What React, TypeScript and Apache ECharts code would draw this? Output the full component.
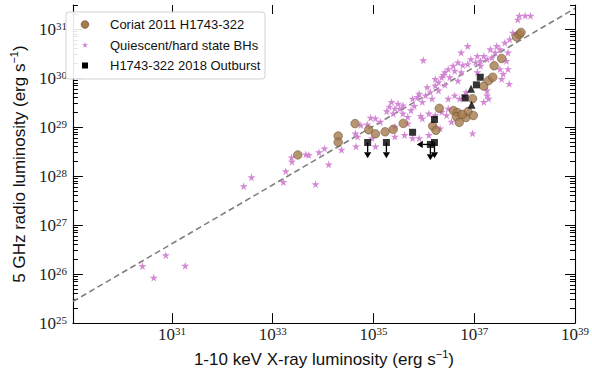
import { useEffect, useRef } from 'react';
import * as echarts from 'echarts';

// Axis ranges (log10 of luminosity)
const X_MIN = 29.035;
const X_MAX = 39;
const Y_MIN = 25;
const Y_MAX = 31.49;

const xTickLogs = [31, 33, 35, 37, 39];
const yTickLogs = [25, 26, 27, 28, 29, 30, 31];
const yMinorLogs: number[] = [];
for (let d = 25; d <= 31; d++) {
  for (let k = 2; k <= 9; k++) {
    const v = d + Math.log10(k);
    if (v <= Y_MAX) yMinorLogs.push(v);
  }
}

const legendNames = ['Coriat 2011 H1743-322', 'Quiescent/hard state BHs', 'H1743-322 2018 Outburst'];

// Coriat 2011 H1743-322 (log Lx, log Lr)
const coriatLogLx = [33.498, 34.3, 34.3, 34.635, 34.907, 35.04, 35.232, 35.392, 35.591, 36.307, 36.176, 36.24, 36.587, 36.664, 36.645, 36.702, 36.837, 36.875, 36.982, 36.76, 36.966, 37.189, 37.286, 37.367, 37.396, 37.544, 37.839, 37.897, 37.929];
const coriatLogLr = [28.431, 28.818, 28.691, 29.07, 28.943, 28.862, 28.903, 28.953, 29.074, 29.381, 29.02, 28.933, 29.336, 29.296, 29.215, 29.094, 29.195, 29.316, 29.236, 29.256, 29.578, 29.835, 29.948, 30.016, 30.25, 30.399, 30.839, 30.889, 30.93];

// Quiescent / hard state BHs
const quiescentLogLx = [30.416, 30.64, 30.879, 31.264, 32.425, 32.58, 33.21, 33.26, 33.383, 33.375, 33.658, 33.716, 33.851, 33.918, 34.028, 34.111, 34.365, 34.654, 34.641, 34.685, 34.751, 34.878, 34.943, 34.974, 35.04, 35.04, 35.136, 35.263, 35.315, 35.359, 35.392, 35.425, 35.425, 35.425, 35.488, 35.521, 35.585, 35.585, 35.617, 35.681, 35.681, 35.745, 35.777, 35.777, 35.81, 35.874, 35.907, 35.907, 35.937, 35.97, 35.97, 35.989, 36.034, 36.066, 36.099, 36.099, 36.13, 36.163, 36.226, 36.226, 36.226, 36.292, 36.292, 36.323, 36.355, 36.355, 36.388, 36.419, 36.419, 36.452, 36.484, 36.484, 36.484, 36.515, 36.548, 36.581, 36.612, 36.612, 36.677, 36.677, 36.708, 36.741, 36.741, 36.773, 36.804, 36.837, 36.87, 36.87, 36.933, 36.966, 37.03, 37.062, 37.062, 37.126, 37.126, 37.19, 37.19, 37.255, 37.255, 37.255, 37.286, 37.319, 37.351, 37.415, 37.448, 37.511, 37.511, 37.544, 37.575, 37.607, 37.64, 37.671, 37.671, 37.694, 37.704, 37.767, 37.864, 37.896, 38.012, 38.118];
const quiescentLogLr = [26.164, 25.928, 26.386, 26.17, 27.793, 27.975, 27.878, 28.1, 28.294, 28.382, 28.443, 28.429, 27.834, 28.485, 28.564, 28.237, 28.536, 28.604, 28.872, 28.806, 29.04, 29.054, 29.189, 28.772, 29.175, 28.604, 29.108, 29.322, 29.417, 29.512, 29.276, 29.377, 29.008, 28.806, 29.478, 29.377, 29.443, 29.276, 28.838, 29.209, 29.074, 29.342, 29.578, 28.772, 29.431, 29.613, 29.679, 28.772, 29.229, 29.512, 29.175, 30.365, 29.645, 29.814, 29.276, 28.838, 29.714, 29.578, 29.982, 29.847, 29.242, 29.746, 29.915, 28.973, 30.016, 29.31, 30.062, 30.117, 29.861, 29.242, 30.183, 29.578, 29.377, 30.016, 29.108, 30.25, 30.149, 29.645, 30.319, 29.947, 29.578, 30.52, 30.117, 30.264, 29.645, 29.714, 30.653, 30.284, 30.385, 28.872, 30.319, 30.452, 30.117, 30.351, 30.25, 30.452, 29.512, 30.385, 29.746, 29.645, 29.578, 30.587, 30.419, 30.52, 30.653, 30.587, 30.183, 29.982, 30.083, 30.722, 30.351, 30.52, 30.183, 29.881, 30.789, 30.924, 31.192, 31.273, 31.273, 31.273];

// H1743-322 2018 outburst: detections (squares), triangles, upper limits (arrows)
const outburstLogLx = [34.885, 35.257, 35.777, 36.13, 36.211, 36.211, 36.818, 37.043, 37.12];
const outburstLogLr = [28.685, 28.685, 28.893, 28.645, 28.685, 29.155, 29.593, 29.861, 30.016];
const outburstTriLogLx = [36.937, 36.947];
const outburstTriLogLr = [29.78, 29.457];
const limitLogLx = [34.885, 35.257, 36.13, 36.13, 36.211];
const limitLogLr = [28.685, 28.685, 28.645, 28.645, 28.685];
const limitDir = ['down', 'down', 'down', 'left', 'down'];

// Fitted correlation (dashed)
const fitLogLx = [29.035, 39];
const fitLogLr = [25.44, 31.42];

const DOWN_LEN = 0.32;
const LEFT_LEN = 0.27;

const STAR_D = 'M50,0 L61,35 L98,35 L68,57 L79,91 L50,70 L21,91 L32,57 L2,35 L39,35 Z';
const STAR = 'path://' + STAR_D;
const SQUARE = 'path://M0,0 L10,0 L10,10 L0,10 Z';
const SERIF = 'Liberation Serif';
const SANS = 'Liberation Sans';

const BROWN = '#a57a4f';
const BROWN_EDGE = '#6a4e2c';
const PINK = '#d283d2';

const pow10Label = (v: number) => `{b|10}{s|${Math.round(v)}}`;
const powRich = {
  b: { fontFamily: SERIF, fontSize: 17, lineHeight: 18, color: '#222', verticalAlign: 'bottom' },
  s: { fontFamily: SERIF, fontSize: 11, lineHeight: 11, color: '#222', verticalAlign: 'top' },
};

const zip = (a: number[], b: number[]) => a.map((v, i) => [v, b[i]]);

let starRegistered = false;

export default function App() {
  const ref = useRef<HTMLDivElement>(null);
  useEffect(() => {
    if (!ref.current) return;
    if (!starRegistered) {
      echarts.graphic.registerShape('legendStar', echarts.graphic.extendPath(STAR_D, {}) as any);
      starRegistered = true;
    }
    const chart = echarts.init(ref.current, undefined, { renderer: 'svg' });
    const nameRich = {
      n: { fontFamily: SANS, fontSize: 17, lineHeight: 20, color: '#111', verticalAlign: 'bottom' },
      s: { fontFamily: SANS, fontSize: 11, lineHeight: 11, color: '#111', verticalAlign: 'top' },
    };
    const baseX = { type: 'value', min: X_MIN, max: X_MAX, splitLine: { show: false } };
    const baseY = { type: 'value', min: Y_MIN, max: Y_MAX, splitLine: { show: false } };

    const rowY = [24.5, 45, 65.5];
    const iconX = 85;
    const textX = 110;
    const legendGraphic: any[] = [
      {
        type: 'rect',
        shape: { x: 66, y: 12, width: 199, height: 67, r: 3 },
        style: { fill: 'rgba(255,255,255,0.9)', stroke: '#d2d2d2', lineWidth: 1 },
        z: 100,
      },
      {
        type: 'circle',
        shape: { cx: iconX, cy: rowY[0], r: 3.8 },
        style: { fill: BROWN, stroke: BROWN_EDGE, lineWidth: 0.7 },
        z: 101,
      },
      {
        type: 'legendStar',
        x: iconX - 3.2,
        y: rowY[1] - 3.1,
        scaleX: 0.065,
        scaleY: 0.065,
        style: { fill: PINK },
        z: 101,
      },
      {
        type: 'rect',
        shape: { x: iconX - 3, y: rowY[2] - 3, width: 6, height: 6 },
        style: { fill: '#000' },
        z: 101,
      },
    ];
    legendNames.forEach((name, i) => {
      legendGraphic.push({
        type: 'text',
        x: textX,
        y: rowY[i],
        style: { text: name, fontFamily: SANS, fontSize: 13, fill: '#111', verticalAlign: 'middle', align: 'left' },
        z: 101,
      });
    });

    chart.setOption({
      animation: false,
      backgroundColor: '#fff',
      grid: { left: 60, right: 15, top: 5, bottom: 46, containLabel: false },
      graphic: legendGraphic,
      xAxis: [
        {
          ...baseX,
          position: 'bottom',
          axisLine: { show: true, lineStyle: { color: '#000', width: 1.1 } },
          axisTick: { show: true, inside: true, length: 10, customValues: xTickLogs, lineStyle: { color: '#000' } },
          axisLabel: { show: true, customValues: xTickLogs, margin: 2, formatter: pow10Label, rich: powRich },
          name: '{n|1-10 keV X-ray luminosity (erg s}{s|−1}{n|)}',
          nameLocation: 'middle',
          nameGap: 24,
          nameTextStyle: { rich: nameRich },
        },
        {
          ...baseX,
          position: 'top',
          axisLine: { show: false },
          axisTick: { show: true, inside: true, length: 9, customValues: xTickLogs, lineStyle: { color: '#000' } },
          axisLabel: { show: false },
        },
      ],
      yAxis: [
        {
          ...baseY,
          position: 'left',
          axisLine: { show: true, lineStyle: { color: '#000', width: 1.1 } },
          axisTick: { show: true, inside: true, length: 10, customValues: yTickLogs, lineStyle: { color: '#000' } },
          axisLabel: { show: true, customValues: yTickLogs, margin: 6, formatter: pow10Label, rich: powRich },
          name: '{n|5 GHz radio luminosity (erg s}{s|−1}{n|)}',
          nameLocation: 'middle',
          nameGap: 42,
          nameTextStyle: { rich: nameRich },
        },
        {
          ...baseY,
          position: 'left',
          axisLine: { show: false },
          axisTick: { show: true, inside: true, length: 5, customValues: yMinorLogs, lineStyle: { color: '#000' } },
          axisLabel: { show: false },
        },
        {
          ...baseY,
          position: 'right',
          axisLine: { show: true, lineStyle: { color: '#000', width: 1.1 } },
          axisTick: { show: true, inside: true, length: 10, customValues: yTickLogs, lineStyle: { color: '#000' } },
          axisLabel: { show: false },
        },
        {
          ...baseY,
          position: 'right',
          axisLine: { show: false },
          axisTick: { show: true, inside: true, length: 5, customValues: yMinorLogs, lineStyle: { color: '#000' } },
          axisLabel: { show: false },
        },
      ],
      series: [
        {
          name: 'fit',
          type: 'line',
          data: zip(fitLogLx, fitLogLr),
          showSymbol: false,
          lineStyle: { color: '#808080', width: 1.6, type: [6, 3.5] },
          z: 1,
          silent: true,
        },
        {
          name: legendNames[1],
          type: 'scatter',
          symbol: STAR,
          symbolSize: 8,
          data: zip(quiescentLogLx, quiescentLogLr),
          itemStyle: { color: PINK, opacity: 0.95 },
          z: 2,
        },
        {
          name: legendNames[0],
          type: 'scatter',
          symbol: 'circle',
          symbolSize: 8.5,
          data: zip(coriatLogLx, coriatLogLr),
          itemStyle: { color: BROWN, borderColor: BROWN_EDGE, borderWidth: 0.7 },
          z: 3,
        },
        {
          name: 'limits',
          type: 'custom',
          data: limitLogLx.map((x, i) => [x, limitLogLr[i], limitDir[i] === 'down' ? 0 : 1]),
          renderItem: (_params: any, api: any) => {
            const x = api.value(0) as number;
            const y = api.value(1) as number;
            const d = api.value(2) as number;
            const p0 = api.coord([x, y]);
            const p1 = d === 0 ? api.coord([x, y - DOWN_LEN]) : api.coord([x - LEFT_LEN, y]);
            const dx = p1[0] - p0[0];
            const dy = p1[1] - p0[1];
            const len = Math.hypot(dx, dy) || 1;
            const ux = dx / len;
            const uy = dy / len;
            const hl = 6;
            const hw = 3.6;
            const bx = p1[0] - ux * hl;
            const by = p1[1] - uy * hl;
            const nx = -uy;
            const ny = ux;
            return {
              type: 'group',
              children: [
                { type: 'line', shape: { x1: p0[0], y1: p0[1], x2: bx, y2: by }, style: { stroke: '#000', lineWidth: 1.3 } },
                {
                  type: 'polygon',
                  shape: { points: [[p1[0], p1[1]], [bx + nx * hw, by + ny * hw], [bx - nx * hw, by - ny * hw]] },
                  style: { fill: '#000' },
                },
              ],
            };
          },
          z: 4,
          silent: true,
        },
        {
          name: legendNames[2],
          type: 'scatter',
          symbol: SQUARE,
          symbolSize: 7,
          data: zip(outburstLogLx, outburstLogLr),
          itemStyle: { color: '#000' },
          z: 5,
        },
        {
          name: 'H1743-322 2018 (triangles)',
          type: 'scatter',
          symbol: 'triangle',
          symbolSize: 8,
          data: zip(outburstTriLogLx, outburstTriLogLr),
          itemStyle: { color: '#000' },
          z: 5,
        },
      ],
    });
    return () => chart.dispose();
  }, []);
  return <div ref={ref} style={{ position: 'fixed', left: 0, top: 0, width: 592, height: 373 }} />;
}
